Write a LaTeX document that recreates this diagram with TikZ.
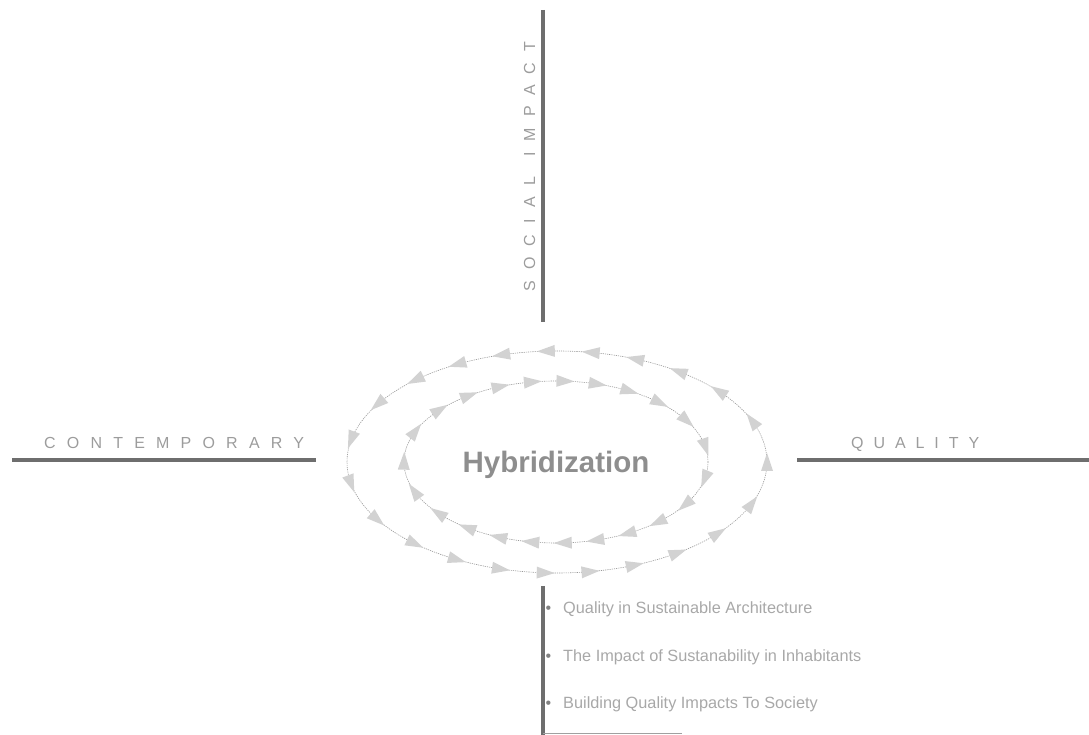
\documentclass[tikz,border=0pt]{standalone}
\usepackage{fontspec}
\setmainfont{Liberation Sans}
\usetikzlibrary{decorations.markings}
\definecolor{axisgray}{HTML}{6E6E6E}
\definecolor{labelgray}{HTML}{9C9C9C}
\definecolor{itemgray}{HTML}{A8A8A8}
\definecolor{dotgray}{HTML}{808080}
\definecolor{tipgray}{HTML}{D2D2D2}
\definecolor{orbitgray}{HTML}{989898}
\definecolor{hubgray}{HTML}{8E8E8E}
\definecolor{baselinegray}{HTML}{A0A0A0}

\begin{document}
\begin{tikzpicture}[x=1pt,y=1pt,
  axis/.style={line width=4pt, draw=axisgray},
  axislabel/.style={text=labelgray, inner sep=0pt, anchor=base west,
    font=\fontsize{16}{16}\selectfont\addfontfeature{LetterSpace=70}},
  item/.style={text=itemgray, inner sep=0pt, anchor=base west,
    font=\fontsize{16.3}{16}\selectfont},
  itemdot/.style={text=dotgray, inner sep=0pt, anchor=base,
    font=\fontsize{16}{16}\selectfont},
  orbit/.style={draw=orbitgray, line width=0.6pt, dash pattern=on 1.2pt off 1pt},
  flowccw/.style={postaction={decorate}, decoration={markings,
    mark=between positions 0 and 0.97 step 0.043478 with
      {\fill[tipgray] (9,0) -- (-9,6) -- (-9,-6) -- cycle;}}},
  flowcw/.style={postaction={decorate}, decoration={markings,
    mark=between positions 0.02 and 0.99 step 0.043478 with
      {\fill[tipgray] (-9,0) -- (9,6) -- (9,-6) -- cycle;}}},
]
\useasboundingbox (0,0) rectangle (1089,735);

% axis end points
\coordinate (topA) at (543,725);
\coordinate (topB) at (543,413);
\coordinate (leftA) at (12,275);
\coordinate (leftB) at (316,275);
\coordinate (rightA) at (797,275);
\coordinate (rightB) at (1089,275);
\coordinate (botA) at (543,149);
\coordinate (botB) at (543,0);
\coordinate (footA) at (543,1.5);
\coordinate (footB) at (682,1.5);

\draw[axis] (topA) -- (topB);
\draw[axis] (leftA) -- (leftB);
\draw[axis] (rightA) -- (rightB);
\draw[axis] (botA) -- (botB);
\draw[draw=baselinegray, line width=1.5pt] (footA) -- (footB);

% axis labels
\node[axislabel, rotate=90] (social) at (535,443) {SOCIAL};
\node[axislabel, rotate=90] (impact) at (535,578) {IMPACT};
\node[axislabel] (contemp) at (44,286) {CONTEMPORARY};
\node[axislabel, font=\fontsize{16}{16}\selectfont\addfontfeature{LetterSpace=62}] (quality) at (851,286) {QUALITY};

% the two orbits around the centre
\draw[orbit, flowccw] (557,273) ellipse [x radius=210, y radius=111];
\draw[orbit, flowcw] (556,273) ellipse [x radius=152, y radius=81];

\node[text=hubgray, font=\fontsize{29.5}{30}\selectfont\bfseries] (hub) at (556,270) {Hybridization};

% bullet list
\node[itemdot] (d1) at (548.5,121) {•};
\node[item] (i1) at (563,121) {Quality in Sustainable Architecture};
\node[itemdot] (d2) at (548.5,73) {•};
\node[item] (i2) at (563,73) {The Impact of Sustanability in Inhabitants};
\node[itemdot] (d3) at (548.5,26) {•};
\node[item] (i3) at (563,26) {Building Quality Impacts To Society};
\end{tikzpicture}
\end{document}
